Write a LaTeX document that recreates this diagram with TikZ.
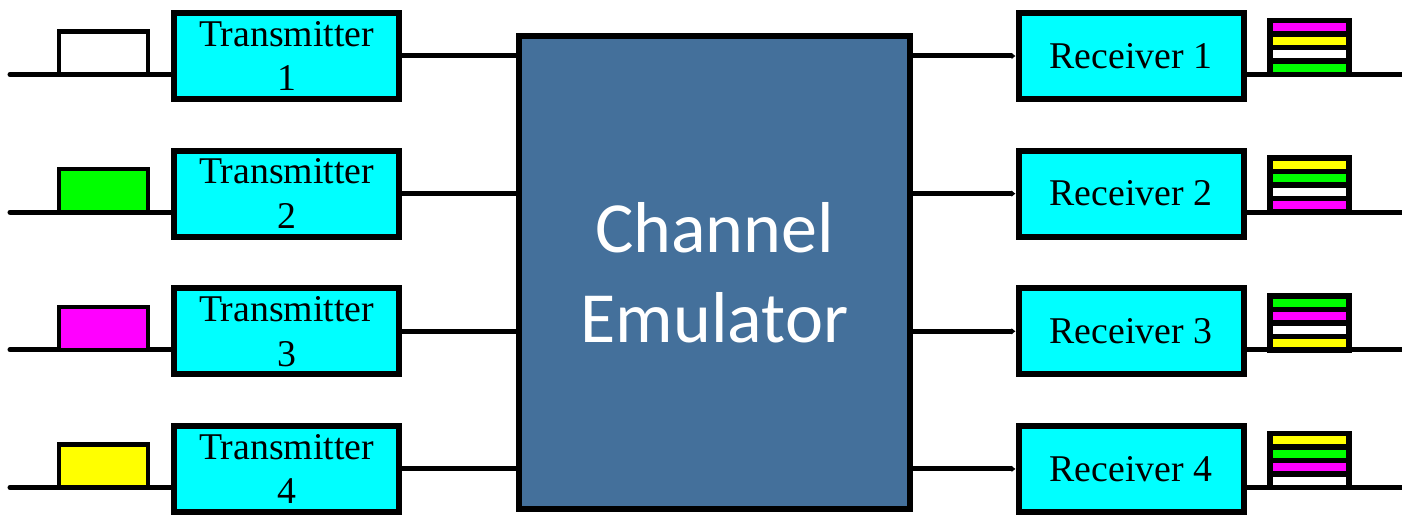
\documentclass[tikz,border=0pt]{standalone}
\usepackage{fontspec}
\setmainfont{Liberation Serif}
\newfontfamily\emufont{Carlito}
\usepackage{xcolor}
\usepackage{tikz}
\usetikzlibrary{calc}
\usetikzlibrary{arrows.meta}

\definecolor{boxcyan}{HTML}{00FFFF}
\definecolor{emublue}{HTML}{44709B}
\definecolor{pgreen}{HTML}{00FF00}
\definecolor{pmagenta}{HTML}{FF00FF}
\definecolor{pyellow}{HTML}{FFFF00}

\tikzset{
  unit/.style={draw=black, fill=boxcyan, line width=0.12cm, minimum width=4.5cm, minimum height=1.72cm,
    align=center, inner sep=0pt, font=\fontsize{21.5}{25.5}\selectfont},
  wire/.style={line width=0.1cm, line cap=round},
  bar/.style={draw=black, line width=0.11cm}
}

\begin{document}
\begin{tikzpicture}
        \useasboundingbox (0,0) rectangle (28.04,10.34);
        %EMULATOR
        \node[draw=black, fill=emublue, line width=0.13cm, minimum width=7.82cm, minimum height=9.46cm,
          text=white, align=center, font=\emufont\fontsize{41}{51}\selectfont] (emu) at (14.29,4.89) {Channel\\Emulator};
        %ROWS
        \foreach \i/\pc/\ca/\cb/\cc/\cd in {1/white/pmagenta/pyellow/white/pgreen,
                                           2/pgreen/pyellow/pgreen/white/pmagenta,
                                           3/pmagenta/pgreen/pmagenta/white/pyellow,
                                           4/pyellow/pyellow/pgreen/pmagenta/white}
        {
          \pgfmathsetmacro{\ry}{9.22-(\i-1)*2.753}
          \pgfmathsetmacro{\rb}{\ry-0.37}
          %TRANSMITTER + PULSE
          \node[unit] (tx\i) at (5.73,\ry) {Transmitter\\\i};
          \coordinate (in\i) at (0.2,\rb);
          \draw[wire] (in\i) -- (tx\i.west |- in\i);
          \filldraw[fill=\pc, draw=black, line width=0.09cm] (1.18,\rb) rectangle (2.96,\rb+0.86);
          \draw[wire, line cap=butt] (tx\i.east) -- (tx\i.east -| emu.west);
          %RECEIVER + STACK
          \node[unit] (rx\i) at (22.62,\ry) {Receiver \i};
          \coordinate (out\i) at (28.04,\rb);
          \draw[wire, line cap=butt] (rx\i.east |- out\i) -- (out\i);
          \foreach \c [count=\k] in {\ca,\cb,\cc,\cd}
            \filldraw[bar, fill=\c] (25.40,\rb+0.27*4-0.27*\k) rectangle (26.98,\rb+0.27*5-0.27*\k);
          \draw[wire, line cap=butt, -{Latex[length=0.08cm,width=0.14cm]}] (rx\i.west -| emu.east) -- (rx\i.west);
        }
\end{tikzpicture}
\end{document}
